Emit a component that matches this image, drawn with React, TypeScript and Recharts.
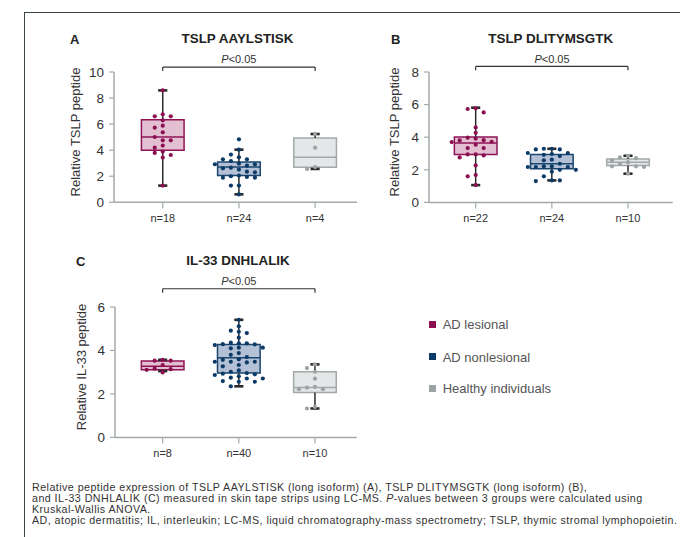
import React from 'react'
import {
    ComposedChart,
    Scatter,
    XAxis,
    YAxis,
    ReferenceArea,
    ReferenceLine,
} from 'recharts'

// group names (legend order)
const groups = ['AD lesional', 'AD nonlesional', 'Healthy individuals']

// panel A - TSLP AAYLSTISK
const aNLabels = ['n=18', 'n=24', 'n=4']
const aLesional = [8.59, 6.75, 6.6, 6.6, 6.29, 5.88, 5.73, 5.37, 5.01, 4.76, 4.76, 4.35, 4.19, 3.89, 3.79, 3.63, 3.43, 1.28]
const aNonlesional = [4.83, 4.04, 3.66, 3.45, 3.3, 3.3, 3.17, 2.97, 2.92, 2.92, 2.81, 2.66, 2.61, 2.51, 2.35, 2.3, 2.05, 2.0, 1.94, 1.89, 1.89, 1.28, 1.28, 0.61]
const aHealthy = [5.24, 4.19, 2.7, 2.56]
const aMin = [1.28, 0.61, 2.56]
const aQ1 = [3.99, 2.05, 2.69]
const aMedian = [5.01, 2.71, 3.45]
const aQ3 = [6.34, 3.09, 4.94]
const aMax = [8.59, 4.04, 5.24]
const aTicks = [0, 2, 4, 6, 8, 10]

// panel B - TSLP DLITYMSGTK
const bNLabels = ['n=22', 'n=24', 'n=10']
const bLesional = [5.77, 5.73, 5.52, 4.6, 4.27, 3.97, 3.91, 3.82, 3.8, 3.72, 3.7, 3.54, 3.33, 3.33, 2.94, 2.94, 2.88, 2.76, 2.27, 1.68, 1.6, 1.06]
const bNonlesional = [3.29, 3.29, 3.25, 3.25, 3.03, 3.03, 2.97, 2.92, 2.84, 2.62, 2.58, 2.37, 2.21, 2.21, 2.17, 2.17, 2.17, 2.0, 2.0, 1.88, 1.6, 1.35, 1.35, 1.31]
const bHealthy = [2.86, 2.76, 2.72, 2.58, 2.47, 2.37, 2.21, 2.21, 2.17, 1.76]
const bMin = [1.06, 1.35, 1.76]
const bQ1 = [2.94, 2.07, 2.27]
const bMedian = [3.64, 2.37, 2.47]
const bQ3 = [4.01, 2.94, 2.66]
const bMax = [5.81, 3.29, 2.86]
const bTicks = [0, 2, 4, 6, 8]

// panel C - IL-33 DNHLALIK
const cNLabels = ['n=8', 'n=40', 'n=10']
const cLesional = [3.57, 3.53, 3.53, 3.33, 3.16, 3.14, 3.11, 2.99]
const cNonlesional = [5.41, 5.11, 4.91, 4.86, 4.8, 4.59, 4.36, 4.33, 4.33, 4.29, 4.28, 4.25, 4.13, 4.13, 4.1, 3.88, 3.8, 3.7, 3.59, 3.57, 3.48, 3.48, 3.48, 3.45, 3.33, 3.27, 3.08, 3.02, 2.96, 2.93, 2.9, 2.87, 2.81, 2.75, 2.71, 2.71, 2.59, 2.56, 2.56, 2.35]
const cHealthy = [3.36, 3.19, 3.02, 2.7, 2.32, 2.29, 2.22, 2.22, 1.4, 1.33]
const cMin = [3.05, 2.35, 1.33]
const cQ1 = [3.11, 2.96, 2.06]
const cMedian = [3.27, 3.67, 2.3]
const cQ3 = [3.51, 4.28, 3.02]
const cMax = [3.57, 5.41, 3.36]
const cTicks = [0, 2, 4, 6]

const pValue = 'P<0.05'

const FONT = '"Liberation Sans", Arial, Helvetica, sans-serif'
const dotColors = ['#8c0f52', '#0b3a66', '#9ca3a4']
const boxStroke = ['#8e1457', '#1b466f', '#a2a9a9']
const boxFill = ['#e3c0d1', '#b3c0d6', '#e4e7e7']
const whisker = '#2a2a2a'
const axisColor = '#a4aaaa'
const CAT_PX = 76.15

// simple beeswarm: put each dot in the first free column slot
function swarm(values: number[], pxPerUnit: number) {
    const slots = [0, -8, 8, -16, 16, -24, 24]
    const placed: { x: number; y: number }[] = []
    return values.map((v) => {
        const py = v * pxPerUnit
        const off =
            slots.find((s) => placed.every((p) => Math.hypot(p.x - s, p.y - py) >= 5)) ?? 0
        placed.push({ x: off, y: py })
        return off / CAT_PX
    })
}

interface PanelProps {
    pl: number
    pt: number
    pr: number
    pb: number
    xDomain: [number, number]
    yTicks: number[]
    nLabels: string[]
    series: number[][]
    mins: number[]
    q1s: number[]
    medians: number[]
    q3s: number[]
    maxs: number[]
    bracketY: number
    bracketDrop: number
}

function Panel(props: PanelProps) {
    const { pl, pt, pr, pb, xDomain, yTicks, nLabels, series } = props
    const maxY = yTicks[yTicks.length - 1]
    const pxPerUnit = (pb - pt) / maxY
    const halfBox = 0.28
    const halfCap = 0.06

    const points = series.map((vals, gi) => {
        const offs = swarm(vals, pxPerUnit)
        return vals.map((v, i) => ({ x: gi + offs[i], y: v }))
    })

    return (
        <div style={{ position: 'absolute', left: pl - 60, top: pt - 30, fontFamily: FONT }}>
            <ComposedChart
                width={pr - pl + 80}
                height={pb - pt + 70}
                margin={{ top: 30, right: 20, left: 30, bottom: 10 }}
            >
                <XAxis
                    type="number"
                    dataKey="x"
                    domain={xDomain}
                    allowDataOverflow
                    ticks={[0, 1, 2]}
                    interval={0}
                    tickFormatter={(v: number) => nLabels[Math.round(v)]}
                    height={30}
                    tickSize={6}
                    tickMargin={6}
                    fontSize={11}
                    tick={{ fontSize: 11, fill: '#333' }}
                    axisLine={{ stroke: axisColor, strokeWidth: 1.5 }}
                    tickLine={{ stroke: axisColor, strokeWidth: 1.2 }}
                />
                <YAxis
                    type="number"
                    dataKey="y"
                    domain={[0, maxY]}
                    allowDataOverflow
                    ticks={yTicks}
                    interval={0}
                    width={30}
                    tickSize={5}
                    tickMargin={5}
                    fontSize={13.5}
                    tick={{ fontSize: 13.5, fill: '#333' }}
                    axisLine={{ stroke: axisColor, strokeWidth: 1.5 }}
                    tickLine={{ stroke: axisColor, strokeWidth: 1.2 }}
                />

                {/* significance bracket */}
                <ReferenceLine
                    segment={[{ x: 0, y: props.bracketY }, { x: 2, y: props.bracketY }]}
                    stroke="#333"
                    strokeWidth={1.2}
                    ifOverflow="visible"
                />
                <ReferenceLine
                    segment={[{ x: 0, y: props.bracketY }, { x: 0, y: props.bracketDrop }]}
                    stroke="#333"
                    strokeWidth={1.2}
                    ifOverflow="visible"
                />
                <ReferenceLine
                    segment={[{ x: 2, y: props.bracketY }, { x: 2, y: props.bracketDrop }]}
                    stroke="#333"
                    strokeWidth={1.2}
                    ifOverflow="visible"
                />

                {groups.map((g, gi) => (
                    <ReferenceArea
                        key={'box' + g}
                        x1={gi - halfBox}
                        x2={gi + halfBox}
                        y1={props.q1s[gi]}
                        y2={props.q3s[gi]}
                        fill={boxFill[gi]}
                        fillOpacity={1}
                        stroke={boxStroke[gi]}
                        strokeWidth={1.5}
                    />
                ))}
                {groups.map((g, gi) => (
                    <ReferenceLine
                        key={'med' + g}
                        segment={[
                            { x: gi - halfBox, y: props.medians[gi] },
                            { x: gi + halfBox, y: props.medians[gi] },
                        ]}
                        stroke={boxStroke[gi]}
                        strokeWidth={1.5}
                    />
                ))}
                {groups.map((g, gi) => (
                    <ReferenceLine
                        key={'wu' + g}
                        segment={[
                            { x: gi, y: props.q3s[gi] },
                            { x: gi, y: props.maxs[gi] },
                        ]}
                        stroke={whisker}
                        strokeWidth={1.5}
                    />
                ))}
                {groups.map((g, gi) => (
                    <ReferenceLine
                        key={'wl' + g}
                        segment={[
                            { x: gi, y: props.q1s[gi] },
                            { x: gi, y: props.mins[gi] },
                        ]}
                        stroke={whisker}
                        strokeWidth={1.5}
                    />
                ))}
                {groups.map((g, gi) => (
                    <ReferenceLine
                        key={'cu' + g}
                        segment={[
                            { x: gi - halfCap, y: props.maxs[gi] },
                            { x: gi + halfCap, y: props.maxs[gi] },
                        ]}
                        stroke={whisker}
                        strokeWidth={2.6}
                    />
                ))}
                {groups.map((g, gi) => (
                    <ReferenceLine
                        key={'cl' + g}
                        segment={[
                            { x: gi - halfCap, y: props.mins[gi] },
                            { x: gi + halfCap, y: props.mins[gi] },
                        ]}
                        stroke={whisker}
                        strokeWidth={2.6}
                    />
                ))}

                {groups.map((g, gi) => (
                    <Scatter
                        key={'pts' + g}
                        name={g}
                        data={points[gi]}
                        isAnimationActive={false}
                        shape={(p: any) => (
                            <circle cx={p.cx} cy={p.cy} r={2.1} fill={dotColors[gi]} />
                        )}
                    />
                ))}
            </ComposedChart>
        </div>
    )
}

function Txt({
    x,
    y,
    children,
    size,
    lh,
    spacing,
    bold,
    anchor = 'start',
    color = '#222',
    rotate = false,
}: {
    x: number
    y: number
    children: React.ReactNode
    size: number
    lh?: number
    spacing?: number
    bold?: boolean
    anchor?: 'start' | 'middle'
    color?: string
    rotate?: boolean
}) {
    const shift = anchor === 'middle' ? '-50%' : '0'
    return (
        <div
            style={{
                position: 'absolute',
                left: x,
                top: y,
                fontSize: size,
                lineHeight: `${lh ?? size}px`,
                letterSpacing: spacing ?? 0,
                fontWeight: bold ? 700 : 400,
                color,
                whiteSpace: 'nowrap',
                transform: `translate(${shift}, -50%)${rotate ? ' rotate(-90deg)' : ''}`,
                transformOrigin: anchor === 'middle' ? 'center' : 'left center',
            }}
        >
            {children}
        </div>
    )
}

function PLabel({ x, y }: { x: number; y: number }) {
    return (
        <Txt x={x} y={y} size={11} anchor="middle" color="#333">
            <i>{pValue.slice(0, 1)}</i>
            {pValue.slice(1)}
        </Txt>
    )
}

const captionLines = [
    'Relative peptide expression of TSLP AAYLSTISK (long isoform) (A), TSLP DLITYMSGTK (long isoform) (B),',
    'and IL-33 DNHLALIK (C) measured in skin tape strips using LC-MS. |P|-values between 3 groups were calculated using',
    'Kruskal-Wallis ANOVA.',
    'AD, atopic dermatitis; IL, interleukin; LC-MS, liquid chromatography-mass spectrometry; TSLP, thymic stromal lymphopoietin.',
]

export default function App() {
    return (
        <div
            style={{
                position: 'absolute',
                left: 0,
                top: 0,
                width: 680,
                height: 537,
                overflow: 'hidden',
                background: '#fff',
                fontFamily: FONT,
            }}
        >
            <div
                style={{
                    position: 'absolute',
                    left: 24,
                    top: 12,
                    width: 800,
                    height: 700,
                    borderLeft: '1.5px solid #3a4646',
                    borderTop: '1.5px solid #3a4646',
                }}
            />

            {/* panel A */}
            <Txt x={70} y={39} size={13} bold>A</Txt>
            <Txt x={237.5} y={39} size={13.4} bold anchor="middle">TSLP AAYLSTISK</Txt>
            <PLabel x={238.8} y={59.3} />
            <Txt x={75} y={131.7} size={13} anchor="middle" color="#333" rotate>
                Relative TSLP peptide
            </Txt>
            <Panel
                pl={114}
                pt={71.7}
                pr={357}
                pb={202}
                xDomain={[-0.64, 2.55]}
                yTicks={aTicks}
                nLabels={aNLabels}
                series={[aLesional, aNonlesional, aHealthy]}
                mins={aMin}
                q1s={aQ1}
                medians={aMedian}
                q3s={aQ3}
                maxs={aMax}
                bracketY={10.38}
                bracketDrop={10.08}
            />

            {/* panel B */}
            <Txt x={391} y={39} size={13} bold>B</Txt>
            <Txt x={550.7} y={39} size={13.4} bold anchor="middle">TSLP DLITYMSGTK</Txt>
            <PLabel x={552} y={59.3} />
            <Txt x={394} y={131.7} size={13} anchor="middle" color="#333" rotate>
                Relative TSLP peptide
            </Txt>
            <Panel
                pl={429.3}
                pt={72.3}
                pr={673}
                pb={202.7}
                xDomain={[-0.613, 2.587]}
                yTicks={bTicks}
                nLabels={bNLabels}
                series={[bLesional, bNonlesional, bHealthy]}
                mins={bMin}
                q1s={bQ1}
                medians={bMedian}
                q3s={bQ3}
                maxs={bMax}
                bracketY={8.34}
                bracketDrop={8.1}
            />

            {/* panel C */}
            <Txt x={76} y={261} size={13} bold>C</Txt>
            <Txt x={238} y={261} size={13.4} bold anchor="middle">IL-33 DNHLALIK</Txt>
            <PLabel x={238.8} y={280.7} />
            <Txt x={80.7} y={366.7} size={13} anchor="middle" color="#333" rotate>
                Relative IL-33 peptide
            </Txt>
            <Panel
                pl={115}
                pt={307.3}
                pr={356.7}
                pb={437.7}
                xDomain={[-0.626, 2.548]}
                yTicks={cTicks}
                nLabels={cNLabels}
                series={[cLesional, cNonlesional, cHealthy]}
                mins={cMin}
                q1s={cQ1}
                medians={cMedian}
                q3s={cQ3}
                maxs={cMax}
                bracketY={6.84}
                bracketDrop={6.66}
            />

            {/* legend */}
            {groups.map((g, gi) => (
                <div key={g}>
                    <div
                        style={{
                            position: 'absolute',
                            left: 429,
                            top: [324, 356.7, 388.3][gi] - 3.5,
                            width: 7,
                            height: 7,
                            background: dotColors[gi],
                        }}
                    />
                    <Txt x={442.7} y={[324, 356.7, 388.3][gi]} size={13} color="#555">
                        {g}
                    </Txt>
                </div>
            ))}

            {/* caption */}
            {captionLines.map((line, i) => {
                const parts = line.split('|')
                return (
                    <Txt
                        key={i}
                        x={32}
                        y={[487, 497.8, 509, 520][i]}
                        size={10.7}
                        lh={10.6}
                        spacing={0.45}
                        color="#333"
                    >
                        {parts.map((p, j) => (j % 2 === 1 ? <i key={j}>{p}</i> : <span key={j}>{p}</span>))}
                    </Txt>
                )
            })}
        </div>
    )
}
